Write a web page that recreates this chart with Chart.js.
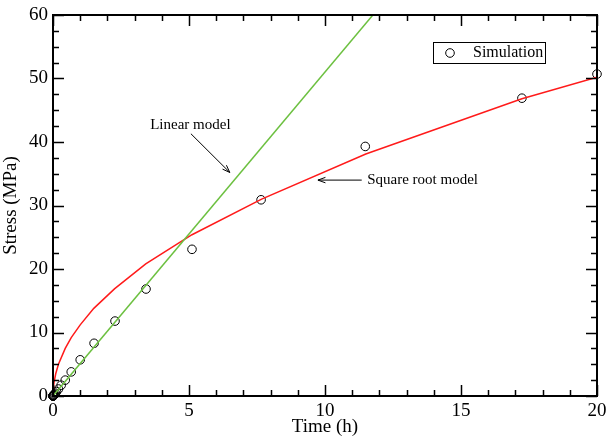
<!DOCTYPE html>
<html>
<head>
<meta charset="utf-8">
<script src="https://cdn.jsdelivr.net/npm/chart.js@4.4.1/dist/chart.umd.min.js"></script>
<style>
  html, body { margin: 0; padding: 0; background: #fff; }
  #wrap { width: 608px; height: 438px; position: relative; }
</style>
</head>
<body>
<div id="wrap"><canvas id="chart"></canvas></div>
<script>
// Simulation results (circles)
const simTime = [0, 0.002, 0.003, 0.005, 0.008, 0.012, 0.017, 0.026, 0.039, 0.059, 0.089, 0.13, 0.20, 0.30, 0.45, 0.67, 1.0, 1.51, 2.28, 3.42, 5.11, 7.65, 11.48, 17.24, 20];
const simStress = [0, 0.01, 0.015, 0.02, 0.03, 0.05, 0.08, 0.13, 0.2, 0.3, 0.45, 0.7, 1.1, 1.7, 2.5, 3.8, 5.7, 8.3, 11.8, 16.85, 23.1, 30.9, 39.3, 46.9, 50.7];

// Linear model (green)
const linTime = [0, 11.76];
const linStress = [0, 60];

// Square root model (red)
const sqrtTime = [0, 0.01, 0.04, 0.1, 0.2, 0.45, 0.67, 1.0, 1.5, 2.27, 3.41, 5.11, 7.67, 11.5, 17.24, 20];
const sqrtStress = [0, 1.1, 2.2, 3.5, 5.0, 7.5, 9.2, 11.2, 13.8, 16.9, 20.8, 25.4, 31.0, 38.1, 46.8, 50.2];

// axis ticks
const xTicks = [0, 5, 10, 15, 20];
const xMinor = [1, 2, 3, 4, 6, 7, 8, 9, 11, 12, 13, 14, 16, 17, 18, 19];
const yTicks = [0, 10, 20, 30, 40, 50, 60];
const yMinor = [2.5, 5, 7.5, 12.5, 15, 17.5, 22.5, 25, 27.5, 32.5, 35, 37.5, 42.5, 45, 47.5, 52.5, 55, 57.5];

const FONT = "'Liberation Serif', 'DejaVu Serif', serif";

function pts(xs, ys) {
    return xs.map(function (x, i) { return { x: x, y: ys[i] }; });
}

// frame, inward ticks, legend and the two annotations
const decorations = {
    id: 'decorations',
    afterDraw: function (chart) {
        const ctx = chart.ctx;
        const a = chart.chartArea;
        const xs = chart.scales.x, ys = chart.scales.y;
        ctx.save();
        ctx.strokeStyle = '#000';

        ctx.lineWidth = 1.5;
        function vt(v, len) {
            const px = Math.round(xs.getPixelForValue(v)) + 0.5;
            ctx.beginPath();
            ctx.moveTo(px, a.bottom); ctx.lineTo(px, a.bottom - len);
            ctx.moveTo(px, a.top); ctx.lineTo(px, a.top + len);
            ctx.stroke();
        }
        function ht(v, len) {
            const py = Math.round(ys.getPixelForValue(v)) + 0.5;
            ctx.beginPath();
            ctx.moveTo(a.left, py); ctx.lineTo(a.left + len, py);
            ctx.moveTo(a.right, py); ctx.lineTo(a.right - len, py);
            ctx.stroke();
        }
        xTicks.forEach(function (v) { vt(v, 11); });
        xMinor.forEach(function (v) { vt(v, 6); });
        yTicks.forEach(function (v) { ht(v, 11); });
        yMinor.forEach(function (v) { ht(v, 6); });

        ctx.lineWidth = 2;
        ctx.strokeRect(a.left, a.top, a.right - a.left, a.bottom - a.top);

        // legend box
        ctx.lineWidth = 1;
        ctx.strokeRect(433.5, 42.5, 112, 21);
        ctx.beginPath();
        ctx.arc(450, 53, 4.3, 0, Math.PI * 2);
        ctx.stroke();
        ctx.fillStyle = '#000';
        ctx.font = '16px ' + FONT;
        ctx.textBaseline = 'middle';
        ctx.textAlign = 'left';
        ctx.fillText(chart.data.datasets[2].label, 473, 53);

        // annotations anchored in data space
        function arrow(x1, y1, x2, y2) {
            const p1 = [xs.getPixelForValue(x1), ys.getPixelForValue(y1)];
            const p2 = [xs.getPixelForValue(x2), ys.getPixelForValue(y2)];
            const ang = Math.atan2(p2[1] - p1[1], p2[0] - p1[0]);
            ctx.beginPath();
            ctx.moveTo(p1[0], p1[1]); ctx.lineTo(p2[0], p2[1]);
            ctx.stroke();
            ctx.beginPath();
            ctx.moveTo(p2[0], p2[1]);
            ctx.lineTo(p2[0] - 8 * Math.cos(ang - 0.35), p2[1] - 8 * Math.sin(ang - 0.35));
            ctx.moveTo(p2[0], p2[1]);
            ctx.lineTo(p2[0] - 8 * Math.cos(ang + 0.35), p2[1] - 8 * Math.sin(ang + 0.35));
            ctx.stroke();
        }
        ctx.font = '15px ' + FONT;
        ctx.textAlign = 'center';
        ctx.fillText('Linear model', xs.getPixelForValue(5.05), ys.getPixelForValue(42.6));
        arrow(5.07, 41.3, 6.5, 35.2);
        ctx.textAlign = 'left';
        ctx.fillText('Square root model', xs.getPixelForValue(11.55), ys.getPixelForValue(34.0));
        arrow(11.35, 34.0, 9.74, 34.0);

        ctx.restore();
    }
};

new Chart(document.getElementById('chart'), {
    type: 'scatter',
    data: {
        datasets: [{
            label: 'Linear model',
            data: pts(linTime, linStress),
            showLine: true,
            borderColor: '#6cc040',
            borderWidth: 1.5,
            pointRadius: 0
        }, {
            label: 'Square root model',
            data: pts(sqrtTime, sqrtStress),
            showLine: true,
            borderColor: '#ff1a1a',
            borderWidth: 1.5,
            pointRadius: 0
        }, {
            label: 'Simulation',
            data: pts(simTime, simStress),
            showLine: false,
            clip: false,
            pointRadius: 4.3,
            pointBorderWidth: 1,
            pointBorderColor: '#000',
            pointBackgroundColor: 'rgba(0,0,0,0)'
        }]
    },
    options: {
        responsive: true,
        maintainAspectRatio: false,
        animation: false,
        layout: { padding: { left: 0, top: 15, right: 11, bottom: 0 } },
        plugins: {
            legend: { display: false },
            tooltip: { enabled: false }
        },
        scales: {
            x: {
                type: 'linear',
                min: 0,
                max: 20,
                afterFit: function (s) { s.height = 42; s.paddingRight = 0; s.paddingLeft = 0; },
                afterBuildTicks: function (s) { s.ticks = xTicks.map(function (v) { return { value: v }; }); },
                grid: { display: false, drawTicks: false },
                border: { display: false },
                ticks: { color: '#000', padding: 4, font: { family: FONT, size: 19 } },
                title: { display: true, text: 'Time (h)', color: '#000', padding: { top: 0, bottom: 0 }, font: { family: FONT, size: 19 } }
            },
            y: {
                type: 'linear',
                min: 0,
                max: 60,
                afterFit: function (s) { s.width = 53; s.paddingTop = 0; s.paddingBottom = 0; },
                afterBuildTicks: function (s) { s.ticks = yTicks.map(function (v) { return { value: v }; }); },
                grid: { display: false, drawTicks: false },
                border: { display: false },
                ticks: { color: '#000', padding: 5, font: { family: FONT, size: 19 } },
                title: { display: true, text: 'Stress (MPa)', color: '#000', padding: { top: 0, bottom: 0 }, font: { family: FONT, size: 19 } }
            }
        }
    },
    plugins: [decorations]
});
</script>
</body>
</html>
